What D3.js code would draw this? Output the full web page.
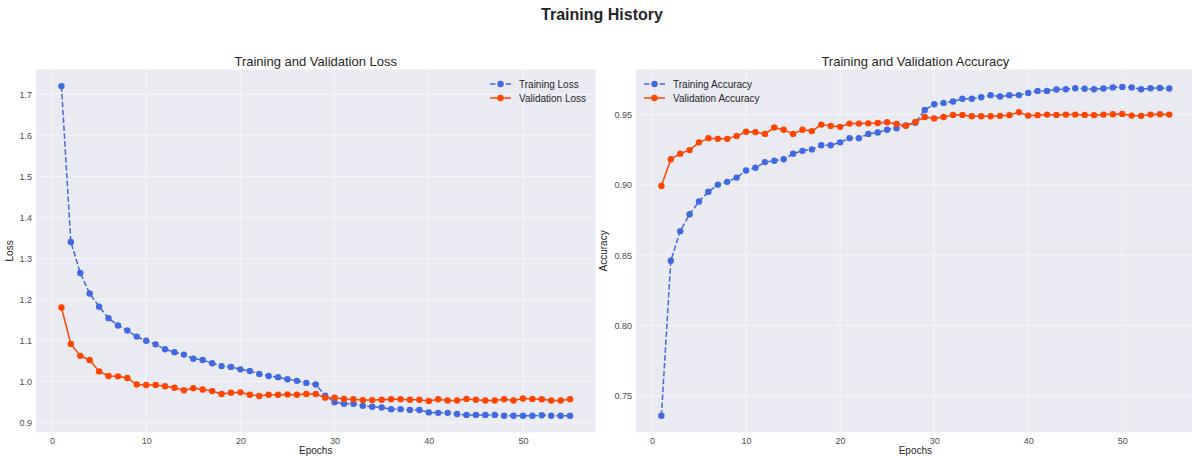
<!DOCTYPE html>
<html lang="en">
<head>
<meta charset="utf-8">
<title>Training History</title>
<style>
  body { margin: 0; background: #fff; }
  svg { display: block; font-family: "Liberation Sans", Arial, sans-serif; }
</style>
</head>
<body>
<svg id="canvas"></svg>
<script src="https://cdn.jsdelivr.net/npm/d3@7"></script>
<script>

  const width = 1192;
  const height = 456;

  // values, one per epoch (1..55)
  const epochs = d3.range(1, 56);

  const trainLoss = [1.720, 1.340, 1.264, 1.214, 1.182, 1.154, 1.136, 1.124, 1.109, 1.099,
                     1.090, 1.078, 1.071, 1.065, 1.055, 1.052, 1.044, 1.037, 1.035, 1.029,
                     1.025, 1.018, 1.013, 1.010, 1.005, 1.001, 0.996, 0.992, 0.965, 0.949,
                     0.945, 0.945, 0.940, 0.938, 0.936, 0.932, 0.932, 0.930, 0.930, 0.924,
                     0.923, 0.923, 0.920, 0.918, 0.918, 0.918, 0.918, 0.916, 0.916, 0.916,
                     0.916, 0.917, 0.916, 0.916, 0.916];

  const valLoss = [1.180, 1.091, 1.062, 1.052, 1.024, 1.013, 1.012, 1.008, 0.992, 0.991,
                   0.991, 0.988, 0.984, 0.978, 0.983, 0.980, 0.976, 0.969, 0.972, 0.973,
                   0.967, 0.964, 0.967, 0.967, 0.968, 0.967, 0.969, 0.969, 0.960, 0.960,
                   0.957, 0.956, 0.954, 0.954, 0.955, 0.956, 0.956, 0.955, 0.955, 0.952,
                   0.956, 0.953, 0.953, 0.957, 0.955, 0.953, 0.953, 0.956, 0.953, 0.958,
                   0.957, 0.956, 0.953, 0.953, 0.956];

  const trainAcc = [0.736, 0.846, 0.867, 0.879, 0.888, 0.895, 0.900, 0.902, 0.905, 0.910,
                    0.912, 0.916, 0.917, 0.918, 0.922, 0.924, 0.925, 0.928, 0.928, 0.930,
                    0.933, 0.933, 0.936, 0.937, 0.939, 0.940, 0.942, 0.944, 0.953, 0.957,
                    0.958, 0.959, 0.961, 0.961, 0.962, 0.9635, 0.9625, 0.9635, 0.9635, 0.965,
                    0.9665, 0.9665, 0.9675, 0.9677, 0.9684, 0.968, 0.9677, 0.9682, 0.969, 0.9693,
                    0.969, 0.9677, 0.9684, 0.9686, 0.9682];

  const valAcc = [0.899, 0.918, 0.922, 0.9245, 0.930, 0.933, 0.9325, 0.9325, 0.9346, 0.9375,
                  0.9373, 0.936, 0.9405, 0.939, 0.936, 0.939, 0.938, 0.9426, 0.9417, 0.941,
                  0.9433, 0.9433, 0.9435, 0.9437, 0.9443, 0.943, 0.9418, 0.9445, 0.948, 0.947,
                  0.948, 0.9495, 0.9495, 0.9485, 0.9485, 0.9485, 0.9488, 0.9493, 0.9514, 0.949,
                  0.9493, 0.9497, 0.9495, 0.9497, 0.9497, 0.9495, 0.9493, 0.9497, 0.950, 0.9502,
                  0.949, 0.9488, 0.9497, 0.950, 0.9497];

  const lossTicks = [0.9, 1.0, 1.1, 1.2, 1.3, 1.4, 1.5, 1.6, 1.7];
  const accTicks = [0.75, 0.80, 0.85, 0.90, 0.95];
  const epochTicks = [0, 10, 20, 30, 40, 50];

  const blue = "#4169E1";
  const orange = "#FF4500";

  const svg = d3.select("#canvas")
    .attr("width", width)
    .attr("height", height)
    .attr("viewBox", [0, 0, width, height]);

  // suptitle
  svg.append("text")
    .attr("x", 602)
    .attr("y", 20)
    .attr("text-anchor", "middle")
    .attr("font-size", 16)
    .attr("font-weight", "bold")
    .attr("fill", "#262626")
    .text("Training History");


  function panel(left, right, top, bottom, yDomain, yTicks, yFormat, series, title, yLabel, labelOffset, legendX) {

    const x = d3.scaleLinear().domain([-1.7, 57.7]).range([left, right]);
    const y = d3.scaleLinear().domain(yDomain).range([bottom, top]);

    const g = svg.append("g");

    // background
    g.append("rect")
      .attr("x", left)
      .attr("y", top)
      .attr("width", right - left)
      .attr("height", bottom - top)
      .attr("fill", "#EAEAF2");

    // grid
    g.append("g")
      .selectAll("line")
      .data(epochTicks)
      .join("line")
      .attr("x1", d => x(d)).attr("x2", d => x(d))
      .attr("y1", top).attr("y2", bottom)
      .attr("stroke", "#fff").attr("stroke-width", 0.7).attr("stroke-opacity", 0.8);
    g.append("g")
      .selectAll("line")
      .data(yTicks)
      .join("line")
      .attr("x1", left).attr("x2", right)
      .attr("y1", d => y(d)).attr("y2", d => y(d))
      .attr("stroke", "#fff").attr("stroke-width", 0.7).attr("stroke-opacity", 0.8);

    // axes (labels only, seaborn style has no tick marks)
    const xAxis = g.append("g")
      .attr("transform", `translate(0,${bottom})`)
      .call(d3.axisBottom(x).tickValues(epochTicks).tickSize(0).tickPadding(5));
    const yAxis = g.append("g")
      .attr("transform", `translate(${left},0)`)
      .call(d3.axisLeft(y).tickValues(yTicks).tickFormat(yFormat).tickSize(0).tickPadding(4));
    for (const ax of [xAxis, yAxis]) {
      ax.select(".domain").remove();
      ax.selectAll("text")
        .attr("font-family", "Liberation Sans, Arial, sans-serif")
        .attr("font-size", 9)
        .attr("fill", "#4d4d4d");
    }

    // titles
    const visRight = Math.min(right, width);
    g.append("text")
      .attr("x", (left + right) / 2)
      .attr("y", 66)
      .attr("text-anchor", "middle")
      .attr("font-size", 13)
      .attr("fill", "#262626")
      .text(title);

    g.append("text")
      .attr("x", (left + right) / 2)
      .attr("y", bottom + 22)
      .attr("text-anchor", "middle")
      .attr("font-size", 10)
      .attr("fill", "#262626")
      .text("Epochs");

    g.append("text")
      .attr("transform", `translate(${left - labelOffset},${(top + bottom) / 2}) rotate(-90)`)
      .attr("text-anchor", "middle")
      .attr("font-size", 10)
      .attr("fill", "#262626")
      .text(yLabel);

    const line = d3.line().x((d, i) => x(epochs[i])).y(d => y(d));

    for (const s of series) {
      g.append("path")
        .datum(s.values)
        .attr("d", line)
        .attr("fill", "none")
        .attr("stroke", s.color)
        .attr("stroke-width", 1.5)
        .attr("stroke-dasharray", s.dashed ? "5.5,2.4" : null);
      g.append("g")
        .selectAll("circle")
        .data(s.values)
        .join("circle")
        .attr("cx", (d, i) => x(epochs[i]))
        .attr("cy", d => y(d))
        .attr("r", 3.2)
        .attr("fill", s.color);
    }

    // legend
    series.forEach((s, i) => {
      const ly = 84 + i * 14;
      g.append("line")
        .attr("x1", legendX).attr("x2", legendX + 21)
        .attr("y1", ly).attr("y2", ly)
        .attr("stroke", s.color)
        .attr("stroke-width", 1.5)
        .attr("stroke-dasharray", s.dashed ? "5.5,2.4" : null);
      g.append("circle")
        .attr("cx", legendX + 10.5).attr("cy", ly).attr("r", 3.2)
        .attr("fill", s.color);
      g.append("text")
        .attr("x", legendX + 29)
        .attr("y", ly + 3.5)
        .attr("font-size", 10)
        .attr("fill", "#262626")
        .text(s.name);
    });
  }

  panel(36, 595.5, 69.5, 432.3, [0.8755, 1.7605], lossTicks, d3.format(".1f"),
    [
      { name: "Training Loss", values: trainLoss, color: blue, dashed: true },
      { name: "Validation Loss", values: valLoss, color: orange, dashed: false }
    ],
    "Training and Validation Loss", "Loss", 23, 490);

  panel(636, 1194.7, 69.5, 432.3, [0.7243, 0.9817], accTicks, d3.format(".2f"),
    [
      { name: "Training Accuracy", values: trainAcc, color: blue, dashed: true },
      { name: "Validation Accuracy", values: valAcc, color: orange, dashed: false }
    ],
    "Training and Validation Accuracy", "Accuracy", 29, 644);

</script>
</body>
</html>
